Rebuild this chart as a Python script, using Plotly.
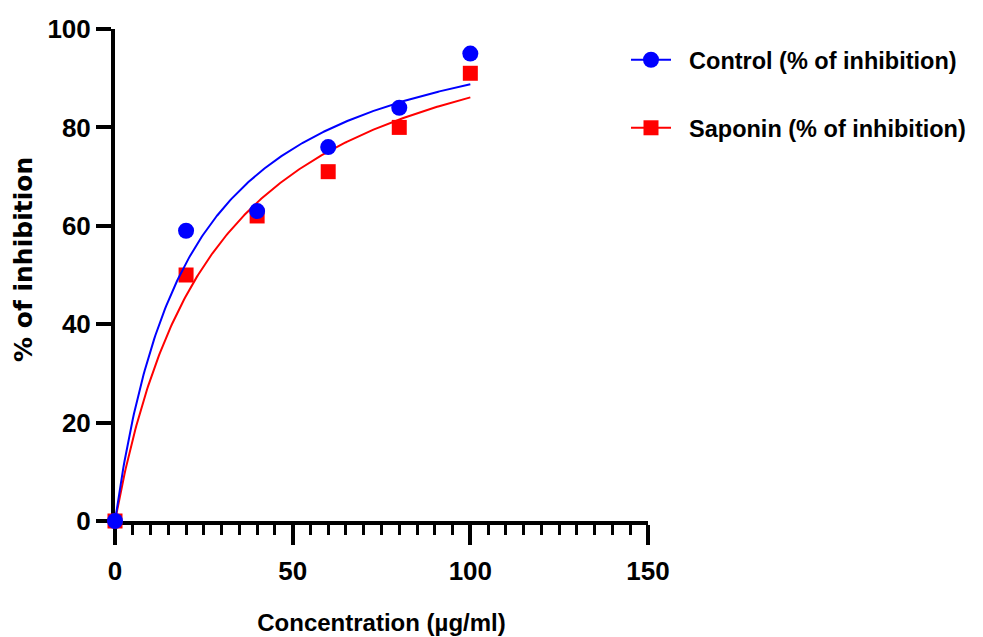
import numpy as np
import plotly.graph_objects as go

# ---- data ----
concentration = [0, 20, 40, 60, 80, 100]
control_inhibition = [0, 59, 63, 76, 84, 95]
saponin_inhibition = [0, 50, 62, 71, 80, 91]

x_tick_vals = [0, 50, 100, 150]
y_tick_vals = [0, 20, 40, 60, 80, 100]

series_names = ["Control (% of inhibition)", "Saponin (% of inhibition)"]
BLUE = "#0000FF"
RED = "#FF0000"


def fit_hyperbola(x, y):
    """Least-squares one-site binding fit: Y = Bmax*X/(Kd+X)."""
    x = np.asarray(x, float)
    y = np.asarray(y, float)
    best = None
    for kd in np.linspace(0.5, 300, 6000):
        f = x / (kd + x)
        bmax = (f @ y) / (f @ f)
        sse = np.sum((y - bmax * f) ** 2)
        if best is None or sse < best[0]:
            best = (sse, kd, bmax)
    return best[1], best[2]


xs = np.linspace(0, max(concentration), 300)
kd_c, bmax_c = fit_hyperbola(concentration, control_inhibition)
kd_s, bmax_s = fit_hyperbola(concentration, saponin_inhibition)
fit_c = bmax_c * xs / (kd_c + xs)
fit_s = bmax_s * xs / (kd_s + xs)

fig = go.Figure()

# Saponin (drawn first so control sits on top)
fig.add_trace(go.Scatter(x=xs, y=fit_s, mode="lines", line=dict(color=RED, width=2),
                         showlegend=False, hoverinfo="skip"))
fig.add_trace(go.Scatter(x=concentration, y=saponin_inhibition, mode="markers",
                         marker=dict(symbol="square", size=15, color=RED),
                         cliponaxis=False, showlegend=False, name=series_names[1]))
# Control
fig.add_trace(go.Scatter(x=xs, y=fit_c, mode="lines", line=dict(color=BLUE, width=2),
                         showlegend=False, hoverinfo="skip"))
fig.add_trace(go.Scatter(x=concentration, y=control_inhibition, mode="markers",
                         marker=dict(symbol="circle", size=16, color=BLUE),
                         cliponaxis=False, showlegend=False, name=series_names[0]))

# legend entries (line + marker symbol)
NB = "\u00a0\u00a0"
fig.add_trace(go.Scatter(x=[None], y=[None], mode="lines+markers", name=NB + series_names[0],
                         line=dict(color=BLUE, width=2),
                         marker=dict(symbol="circle", size=16, color=BLUE), legend="legend"))
fig.add_trace(go.Scatter(x=[None], y=[None], mode="lines+markers", name=NB + series_names[1],
                         line=dict(color=RED, width=2),
                         marker=dict(symbol="square", size=15, color=RED), legend="legend2"))

tick_font = dict(family="Liberation Sans, Arial, sans-serif", size=26, color="black", weight="bold")
legend_font = dict(family="Liberation Sans, Arial, sans-serif", size=23.5, color="black", weight="bold")

# page body has an 8px margin: offsets below compensate for it
PLOT_L, PLOT_R, PLOT_T, PLOT_B = 115, 648, 29, 521   # target page pixels
W, H = 975, 629
fig.update_layout(
    width=W, height=H,
    margin=dict(l=PLOT_L - 8, r=W - (PLOT_R - 8), t=PLOT_T - 8, b=H - (PLOT_B - 8),
                autoexpand=False),
    plot_bgcolor="white", paper_bgcolor="white",
    xaxis=dict(
        range=[0, 150], tickvals=x_tick_vals, ticks="outside", ticklen=20, tickwidth=4,
        tickcolor="black", showline=True, linewidth=4, linecolor="black", automargin=False,
        showgrid=False, zeroline=False, tickfont=tick_font, layer="below traces",
        ticklabelstandoff=4,
        minor=dict(dtick=5, ticks="outside", ticklen=10, tickwidth=3, tickcolor="black", showgrid=False),
        title=dict(text="Concentration (µg/ml)", standoff=30,
                   font=dict(family="Liberation Sans, Arial, sans-serif", size=24, color="black",
                             weight="bold")),
    ),
    yaxis=dict(
        range=[0, 100], tickvals=y_tick_vals, ticks="outside", ticklen=15, tickwidth=4,
        tickcolor="black", showline=True, linewidth=4, linecolor="black", automargin=False,
        showgrid=False, zeroline=False, tickfont=tick_font, layer="below traces",
    ),
    legend=dict(x=(626 - PLOT_L) / (PLOT_R - PLOT_L), y=(PLOT_B - 60) / (PLOT_B - PLOT_T),
                xanchor="left", yanchor="middle",
                font=legend_font, itemwidth=40, bgcolor="rgba(0,0,0,0)"),
    legend2=dict(x=(626 - PLOT_L) / (PLOT_R - PLOT_L), y=(PLOT_B - 128) / (PLOT_B - PLOT_T),
                 xanchor="left", yanchor="middle",
                 font=legend_font, itemwidth=40, bgcolor="rgba(0,0,0,0)"),
    annotations=[dict(text="% of inhibition", textangle=-90, xref="paper", yref="paper",
                      x=(23 - PLOT_L) / (PLOT_R - PLOT_L), y=(PLOT_B - 260) / (PLOT_B - PLOT_T),
                      xanchor="center", yanchor="middle", showarrow=False,
                      font=dict(family="DejaVu Sans, sans-serif", size=25, color="black",
                                weight="bold"))],
)

fig.write_html("out.html")
